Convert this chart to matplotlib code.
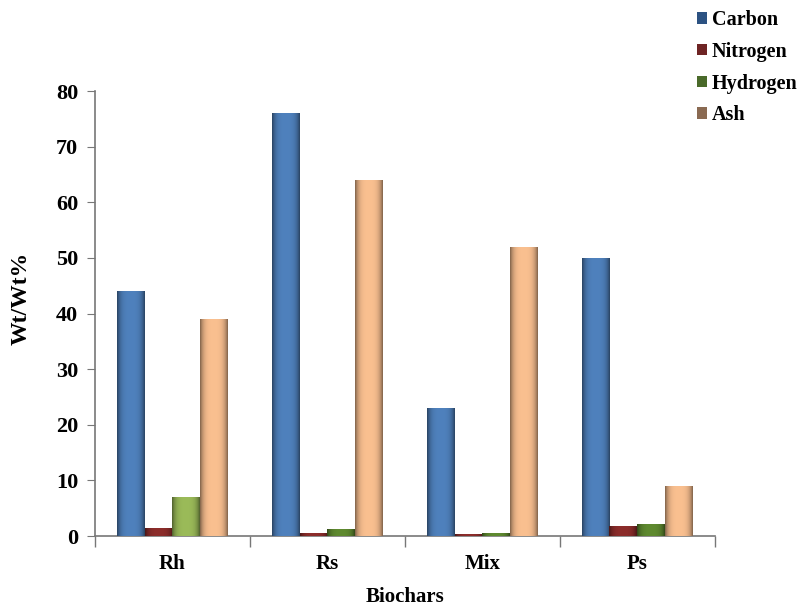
import numpy as np
import matplotlib
matplotlib.use('Agg')
import matplotlib.pyplot as plt
from matplotlib.colors import to_rgb
from matplotlib.patches import Patch

plt.rcParams['font.family'] = ['Liberation Serif', 'DejaVu Serif']
plt.rcParams['font.weight'] = 'bold'

categories = ['Rh', 'Rs', 'Mix', 'Ps']
series = ['Carbon', 'Nitrogen', 'Hydrogen', 'Ash']
carbon = [44, 76, 23, 50]
nitrogen = [1.4, 0.6, 0.4, 1.8]
hydrogen = [7, 1.2, 0.6, 2.1]
ash = [39, 64, 52, 9]
values = [carbon, nitrogen, hydrogen, ash]

bar_colors = ['#4f81bd', '#8c2d2b', '#5f8a30', '#fac090']
hydro_rh = '#9bbb59'
legend_colors = ['#2c5282', '#6e2424', '#4a6a2a', '#8a6a52']

fig = plt.figure(figsize=(8.05, 6.11), dpi=100)
ax = fig.add_axes([0.118, 0.1227, 0.77, 0.7283])

x = np.arange(len(categories))
w = 0.18


def shade(patch, color):
    c = np.array(to_rgb(color))
    t = np.linspace(-1, 1, 64)
    f = 1 - 0.4 * t ** 4 - 0.08 * t ** 2
    img = (c[None, :] * f[:, None])[None, :, :]
    bx, by = patch.get_x(), patch.get_y()
    bw, bh = patch.get_width(), patch.get_height()
    im = ax.imshow(img, extent=[bx, bx + bw, by, by + bh], aspect='auto',
                   zorder=3, interpolation='bilinear')
    im.set_clip_path(patch)


for i, (name, vals) in enumerate(zip(series, values)):
    bars = ax.bar(x + (i - 1.5) * w, vals, w, color=bar_colors[i],
                  linewidth=0, zorder=2)
    for j, p in enumerate(bars):
        col = bar_colors[i]
        if name == 'Hydrogen' and categories[j] == 'Rh':
            col = hydro_rh
        shade(p, col)

ax.set_xlim(-0.5, 3.5)
ax.set_ylim(0, 80)
ax.set_yticks(np.arange(0, 81, 10))
ax.set_xticks(x)
ax.set_xticklabels(categories)
ax.set_xticks(np.arange(-0.5, 3.6, 1), minor=True)
ax.tick_params(axis='x', which='major', length=0, pad=13, labelsize=15)
ax.tick_params(axis='x', which='minor', length=8, color='#777777', width=1)
ax.tick_params(axis='y', length=6, color='#777777', labelsize=16, pad=6)

for s in ['top', 'right']:
    ax.spines[s].set_visible(False)
for s in ['left', 'bottom']:
    ax.spines[s].set_color('#777777')
    ax.spines[s].set_linewidth(1.2)

ax.set_ylabel('Wt/Wt%', fontsize=17, fontweight='bold')
ax.yaxis.set_label_coords(-0.119, 0.535)
ax.set_xlabel('Biochars', fontsize=15, fontweight='bold')
ax.xaxis.set_label_coords(0.5, -0.137)
ax.xaxis.label.set_va('center')
ax.yaxis.label.set_va('center')

handles = [Patch(facecolor=c, edgecolor='none') for c in legend_colors]
fig.legend(handles, series, loc='upper left', bbox_to_anchor=(0.843, 1.013),
           frameon=False, handlelength=0.5, handleheight=0.5,
           handletextpad=0.25, labelspacing=0.58,
           prop={'weight': 'bold', 'size': 14.5})

fig.savefig('out.png', dpi=100)
